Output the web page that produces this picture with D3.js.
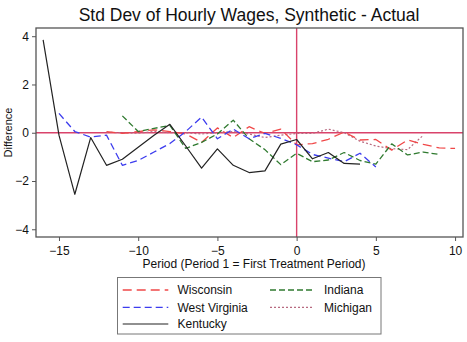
<!DOCTYPE html>
<html><head><meta charset="utf-8">
<script src="https://cdn.jsdelivr.net/npm/d3@7"></script>
<style>body{margin:0;background:#fff}svg{display:block;font-family:"Liberation Sans",Arial,sans-serif}</style>
</head><body><svg id="c" width="467" height="342"></svg>
<script>
const xTicks = [-15, -10, -5, 0, 5, 10];
const yTicks = [4, 2, 0, -2, -4];
const wisconsinT = [-12,-11,-10,-9,-8,-7,-6,-5,-4,-3,-2,-1,0,1,2,3,4,5,6,7,8,9,10];
const wisconsin  = [0.05,-0.03,0.05,0.12,0.05,-0.05,-0.4,0.2,-0.2,0.25,-0.03,0.15,-0.5,-0.45,-0.27,0.03,-0.3,-0.28,-0.72,-0.3,-0.48,-0.63,-0.65];
const westVirginiaT = [-15,-14,-13,-12,-11,-10,-9,-8,-7,-6,-5,-4,-3,-2,-1,0,1,2,3,4,5];
const westVirginia  = [0.8,0.05,-0.18,-0.1,-1.35,-1.15,-0.8,-0.45,0.05,0.65,-0.25,0.15,-0.25,-0.03,-0.23,-0.5,-0.9,-1.05,-1.2,-0.85,-1.42];
const kentuckyT = [-16,-15,-14,-13,-12,-11,-10,-9,-8,-7,-6,-5,-4,-3,-2,-1,0,1,2,3,4];
const kentucky  = [3.85,-0.1,-2.55,-0.2,-1.35,-1.1,-0.6,-0.1,0.35,-0.55,-1.47,-0.67,-1.35,-1.65,-1.58,-0.47,-0.28,-1.08,-0.82,-1.27,-1.3];
const indianaT = [-11,-10,-9,-8,-7,-6,-5,-4,-3,-2,-1,0,1,2,3,4,5,6,7,8,9];
const indiana  = [0.7,0.05,0.18,0.3,-0.65,-0.4,-0.05,0.52,-0.25,-0.7,-1.32,-0.85,-1.2,-1.13,-0.82,-1.15,-1.3,-0.46,-0.92,-0.8,-0.9];
const michiganT = [-12,-11,-10,-9,-8,-7,-6,-5,-4,-3,-2,-1,0,1,2,3,4,5,6,7,8];
const michigan  = [0.02,0.0,-0.02,0.05,0.0,0.0,-0.05,0.0,0.05,-0.05,-0.2,-0.1,-0.03,-0.03,0.15,0.0,-0.35,-0.55,-0.66,-0.7,-0.1];

const seriesNames = ["Wisconsin","West Virginia","Kentucky","Indiana","Michigan"];
const seriesT = [wisconsinT, westVirginiaT, kentuckyT, indianaT, michiganT];
const seriesV = [wisconsin, westVirginia, kentucky, indiana, michigan];
const styles = {
  "Wisconsin":     {color:"#f04848", dash:"9,5", w:1.3},
  "West Virginia": {color:"#3c3cee", dash:"7,4", w:1.3},
  "Kentucky":      {color:"#222222", dash:null,  w:1.2},
  "Indiana":       {color:"#2f7a2f", dash:"6,3", w:1.3},
  "Michigan":      {color:"#b86a80", dash:"2,2", w:1.2}
};

const svg = d3.select("#c");
const L = 36, R = 463, T = 28, B = 237;
const x = d3.scaleLinear().domain([-16.45, 10.5]).range([L, R]);
const y = d3.scaleLinear().domain([-4.32, 4.34]).range([B, T]);

svg.append("text").attr("x", 249).attr("y", 21).attr("text-anchor","middle")
  .attr("font-size", 17.5).attr("fill","#111").text("Std Dev of Hourly Wages, Synthetic - Actual");

// axes
const gx = svg.append("g").attr("transform", `translate(0,${B})`)
  .call(d3.axisBottom(x).tickValues(xTicks).tickSize(4).tickPadding(3).tickFormat(d3.format("d")));
const gy = svg.append("g").attr("transform", `translate(${L},0)`)
  .call(d3.axisLeft(y).tickValues(yTicks).tickSize(4).tickPadding(3).tickFormat(d3.format("d")));
[gx, gy].forEach(g => {
  g.select(".domain").remove();
  g.selectAll("line").attr("stroke","#555");
  g.selectAll("text").attr("font-size", 12).attr("fill","#111").attr("font-family","Liberation Sans, Arial, sans-serif");
});
gx.selectAll("text").attr("dy","0.95em");

// reference lines
svg.append("line").attr("x1", L).attr("x2", R).attr("y1", y(0)).attr("y2", y(0))
  .attr("stroke","#d9436b").attr("stroke-width",1.4);
svg.append("line").attr("x1", x(0)).attr("x2", x(0)).attr("y1", T).attr("y2", B)
  .attr("stroke","#d9436b").attr("stroke-width",1.4);

// series
const line = d3.line().x(d => x(d[0])).y(d => y(d[1]));
const drawOrder = ["Michigan","Wisconsin","Indiana","West Virginia","Kentucky"];
drawOrder.forEach(name => {
  const i = seriesNames.indexOf(name);
  const pts = seriesT[i].map((t, k) => [t, seriesV[i][k]]);
  const s = styles[name];
  svg.append("path").datum(pts).attr("d", line).attr("fill","none")
    .attr("stroke", s.color).attr("stroke-width", s.w)
    .attr("stroke-dasharray", s.dash).attr("stroke-linejoin","round");
});

// frame
svg.append("rect").attr("x", L).attr("y", T).attr("width", R - L).attr("height", B - T)
  .attr("fill","none").attr("stroke","#555").attr("stroke-width",1.3);

// axis titles
svg.append("text").attr("x", 254).attr("y", 268).attr("text-anchor","middle")
  .attr("font-size", 12).attr("fill","#111").text("Period (Period 1 = First Treatment Period)");
svg.append("text").attr("transform", `translate(12,${(T+B)/2}) rotate(-90)`).attr("text-anchor","middle")
  .attr("font-size", 11).attr("fill","#111").text("Difference");

// legend
const lg = svg.append("g");
lg.append("rect").attr("x", 117.5).attr("y", 277.5).attr("width", 263.5).attr("height", 56.5)
  .attr("fill","#fff").attr("stroke","#777").attr("stroke-width",1);
const legendItems = [
  {name:"Wisconsin", col:0, row:0},
  {name:"Indiana", col:1, row:0},
  {name:"West Virginia", col:0, row:1},
  {name:"Michigan", col:1, row:1},
  {name:"Kentucky", col:0, row:2}
];
const colX = [[122.7,168.3,177.5],[270,313.3,324]];
const rowY = [290, 307.3, 324];
legendItems.forEach(it => {
  const s = styles[it.name];
  const [x1, x2, tx] = colX[it.col];
  const yy = rowY[it.row];
  lg.append("line").attr("x1", x1).attr("x2", x2).attr("y1", yy).attr("y2", yy)
    .attr("stroke", s.color).attr("stroke-width", s.w).attr("stroke-dasharray", s.dash);
  lg.append("text").attr("x", tx).attr("y", yy + 4.2).attr("font-size", 12).attr("fill","#111").text(it.name);
});
</script></body></html>
